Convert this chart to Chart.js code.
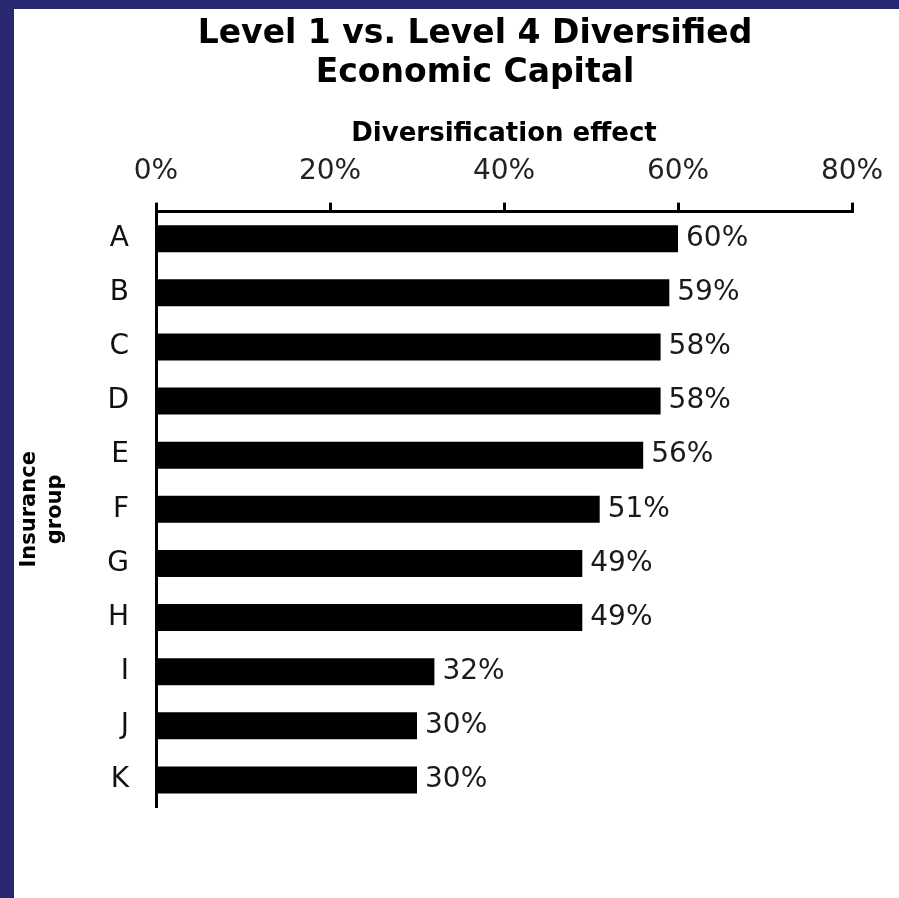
<!DOCTYPE html>
<html>
<head>
<meta charset="utf-8">
<script src="https://cdn.jsdelivr.net/npm/chart.js@4.4.1/dist/chart.umd.min.js"></script>
<style>
  html, body { margin: 0; padding: 0; width: 899px; height: 898px; overflow: hidden; background: #282870; }
  #frame { position: absolute; left: 14px; top: 9px; width: 885px; height: 889px; background: #fff; overflow: hidden; }
  #wrap { position: absolute; left: 0; top: 0; width: 922px; height: 889px; }
</style>
</head>
<body>
<div id="frame">
  <div id="wrap"><canvas id="myChart"></canvas></div>
</div>
<script>
  // chart data
  const groups = ['A', 'B', 'C', 'D', 'E', 'F', 'G', 'H', 'I', 'J', 'K'];
  const effect = [60, 59, 58, 58, 56, 51, 49, 49, 32, 30, 30];
  const axisMin = 0;
  const axisMax = 80;
  const axisStep = 20;

  Chart.defaults.font.family = "'DejaVu Sans', sans-serif";
  Chart.defaults.color = '#111';

  // value labels to the right of each bar
  const barLabels = {
    id: 'barLabels',
    afterDatasetsDraw(chart) {
      const ctx = chart.ctx;
      const meta = chart.getDatasetMeta(0);
      ctx.save();
      ctx.font = "28px 'DejaVu Sans', sans-serif";
      ctx.fillStyle = '#1a1a1a';
      ctx.textAlign = 'left';
      ctx.textBaseline = 'middle';
      meta.data.forEach((bar, i) => {
        ctx.fillText(effect[i] + '%', bar.x + 8, bar.y);
      });
      ctx.restore();
    }
  };

  const ctx = document.getElementById('myChart').getContext('2d');
  new Chart(ctx, {
    type: 'bar',
    data: {
      labels: groups,
      datasets: [{
        label: 'Diversification effect',
        data: effect,
        backgroundColor: '#000',
        borderWidth: 0,
        barPercentage: 0.5,
        categoryPercentage: 1.0
      }]
    },
    options: {
      indexAxis: 'y',
      responsive: true,
      maintainAspectRatio: false,
      animation: false,
      layout: { padding: { left: 0, right: 0, top: 0, bottom: 91 } },
      plugins: {
        legend: { display: false },
        tooltip: { enabled: false },
        title: {
          display: true,
          text: ['Level 1 vs. Level 4 Diversified', 'Economic Capital'],
          color: '#000',
          font: { size: 33, weight: 'bold', lineHeight: '39px' },
          padding: { top: 6, bottom: 17 }
        }
      },
      scales: {
        x: {
          position: 'top',
          min: axisMin,
          max: axisMax,
          ticks: {
            stepSize: axisStep,
            padding: 14,
            color: '#222',
            font: { size: 28 },
            callback: (v) => v + '%'
          },
          grid: {
            drawOnChartArea: false,
            drawTicks: true,
            tickLength: 9,
            lineWidth: 3,
            color: '#000'
          },
          border: { display: true, width: 3, color: '#000' },
          title: {
            display: true,
            text: 'Diversification effect',
            color: '#000',
            // tight line box: tick padding is counted twice when the axis is fitted
            font: { size: 26, weight: 'bold', lineHeight: '14px' },
            padding: { top: 17, bottom: 0 }
          }
        },
        y: {
          position: 'left',
          ticks: { padding: 27, color: '#111', font: { size: 28 } },
          grid: { display: false, drawTicks: false },
          border: { display: true, width: 3, color: '#000' },
          title: {
            display: true,
            text: ['Insurance', 'group'],
            color: '#000',
            font: { size: 21, weight: 'bold', lineHeight: '26px' },
            padding: { top: 3, bottom: 0 }
          },
          afterFit(scale) { scale.width = 142; }
        },
        // empty box on the right so the title sits where it does in the original
        spacer: {
          type: 'category',
          position: 'right',
          ticks: { display: false },
          grid: { display: false, drawTicks: false },
          border: { display: false },
          afterFit(scale) { scale.width = 84; }
        }
      }
    },
    plugins: [barLabels]
  });
</script>
</body>
</html>
